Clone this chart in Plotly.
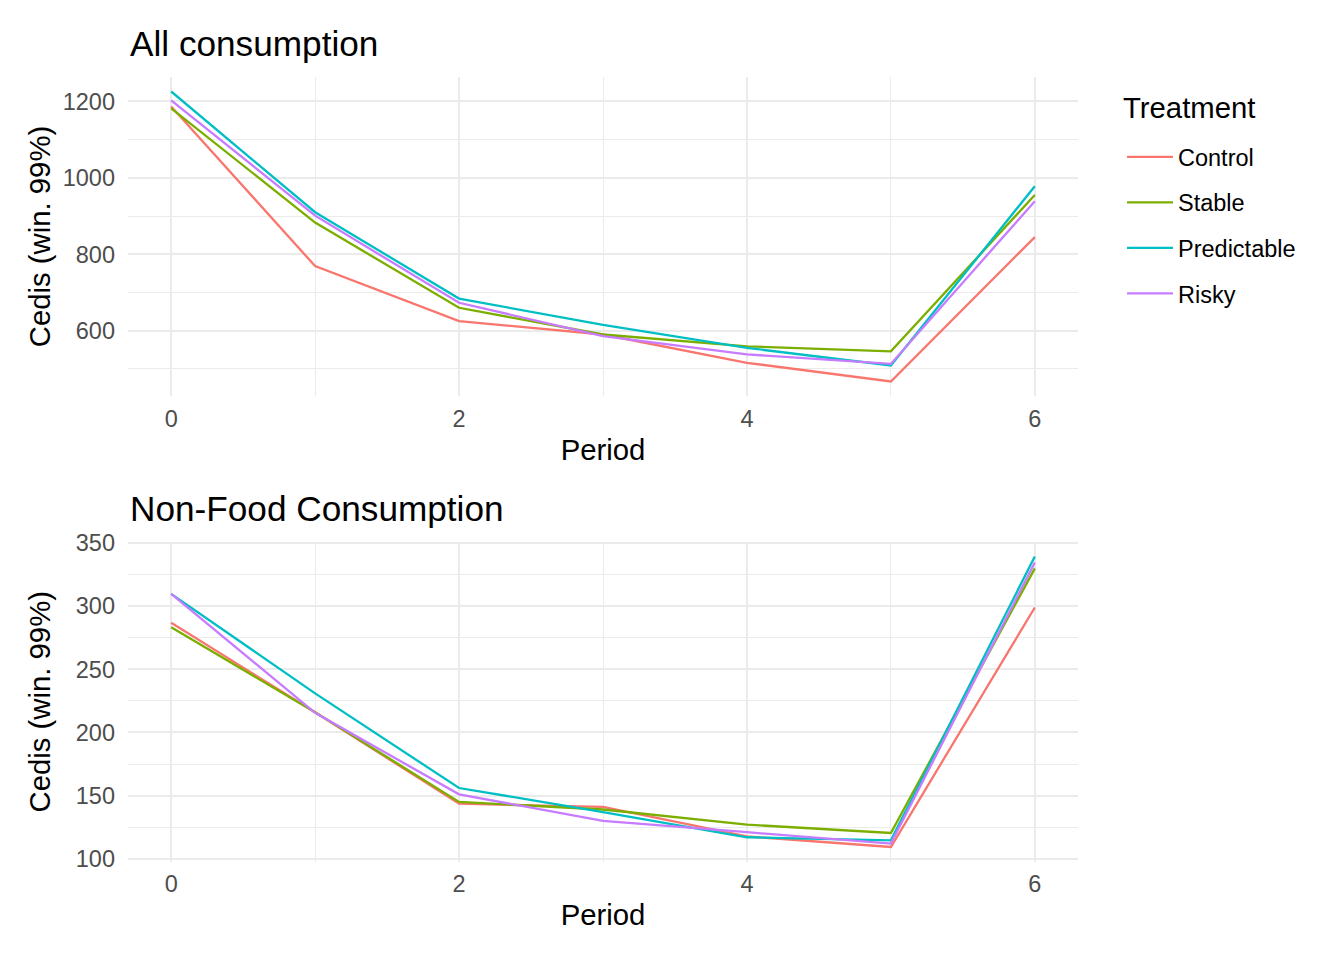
import plotly.graph_objects as go

periods = [0, 1, 2, 3, 4, 5, 6]
treatments = ["Control", "Stable", "Predictable", "Risky"]
colors = ["#F8766D", "#7CAE00", "#00BFC4", "#C77CFF"]

all_control = [1187, 769, 625, 590, 516, 467, 845]
all_stable = [1182, 883, 660, 590, 559, 546, 955]
all_predictable = [1226, 910, 684, 615, 555, 509, 978]
all_risky = [1203, 901, 673, 586, 538, 513, 939]

nf_control = [287, 216, 143.6, 141, 117.7, 109.3, 299]
nf_stable = [283.3, 216, 145, 139, 127, 120.4, 330]
nf_predictable = [309.8, 231, 156, 137, 117, 114.6, 339.4]
nf_risky = [309.8, 215.6, 151, 130, 121, 112, 334.7]

all_series = [all_control, all_stable, all_predictable, all_risky]
nf_series = [nf_control, nf_stable, nf_predictable, nf_risky]

W, H = 1344, 960
OFF = 8  # page offset of the figure inside the browser window
FONT = "Liberation Sans, Arial, Helvetica, sans-serif"
GRID = "#EBEBEB"
TICKC = "#4D4D4D"
TICK_SIZE = 23.5
AXTITLE_SIZE = 29.3
TITLE_SIZE = 35.2


def expand(series_list, mult=0.05):
    lo = min(min(s) for s in series_list)
    hi = max(max(s) for s in series_list)
    d = (hi - lo) * mult
    return [lo - d, hi + d]


def px(xp):
    return (xp - OFF) / W


def py(yp):
    return 1 - (yp - OFF) / H


fig = go.Figure()
for name, col, ys in zip(treatments, colors, all_series):
    fig.add_trace(go.Scatter(x=periods, y=ys, mode="lines", name=name,
                             legendgroup=name, line=dict(color=col, width=2.3),
                             xaxis="x", yaxis="y"))
for name, col, ys in zip(treatments, colors, nf_series):
    fig.add_trace(go.Scatter(x=periods, y=ys, mode="lines", name=name,
                             legendgroup=name, showlegend=False,
                             line=dict(color=col, width=2.3),
                             xaxis="x2", yaxis="y2"))

xdom = [px(128), px(1078)]
top_dom = [py(396), py(77)]
bot_dom = [py(861.5), py(542)]

xcommon = dict(range=[-0.3, 6.3], tickvals=[0, 2, 4, 6], showgrid=True,
               gridcolor=GRID, gridwidth=2.2, zeroline=False, showline=False,
               ticks="", ticklabelstandoff=6,
               tickfont=dict(family=FONT, size=TICK_SIZE, color=TICKC),
               minor=dict(tickvals=[1, 3, 5], showgrid=True, gridcolor=GRID, gridwidth=1.1),
               automargin=False,
               title=dict(text="Period", font=dict(family=FONT, size=AXTITLE_SIZE, color="black"), standoff=8))
ycommon = dict(showgrid=True, gridcolor=GRID, gridwidth=2.2, zeroline=False,
               showline=False, ticks="", ticklabelstandoff=12,
               tickfont=dict(family=FONT, size=TICK_SIZE, color=TICKC), automargin=False)


def ytitle(standoff):
    return dict(text="Cedis (win. 99%)", font=dict(family=FONT, size=AXTITLE_SIZE, color="black"),
                standoff=standoff)


fig.update_layout(
    width=W, height=H,
    margin=dict(l=0, r=0, t=0, b=0),
    paper_bgcolor="white", plot_bgcolor="white",
    font=dict(family=FONT),
    xaxis=dict(domain=xdom, anchor="y", **xcommon),
    yaxis=dict(domain=top_dom, anchor="x", range=expand(all_series),
               tickvals=[600, 800, 1000, 1200], title=ytitle(3),
               minor=dict(tickvals=[500, 700, 900, 1100], showgrid=True, gridcolor=GRID, gridwidth=1.1),
               **ycommon),
    xaxis2=dict(domain=xdom, anchor="y2", **xcommon),
    yaxis2=dict(domain=bot_dom, anchor="x2", range=expand(nf_series),
                tickvals=[100, 150, 200, 250, 300, 350], title=ytitle(16),
                minor=dict(tickvals=[125, 175, 225, 275, 325], showgrid=True, gridcolor=GRID, gridwidth=1.1),
                **ycommon),
    legend=dict(x=px(1122), y=py(135), xanchor="left", yanchor="top",
                font=dict(family=FONT, size=TICK_SIZE, color="black"),
                itemwidth=46, tracegroupgap=12, bgcolor="rgba(0,0,0,0)"),
    annotations=[
        dict(text="Treatment", x=px(1121), y=py(107), xref="paper", yref="paper",
             xanchor="left", yanchor="middle", showarrow=False,
             font=dict(family=FONT, size=AXTITLE_SIZE, color="black")),
        dict(text="All consumption", x=px(128), y=py(43), xref="paper", yref="paper",
             xanchor="left", yanchor="middle", showarrow=False,
             font=dict(family=FONT, size=TITLE_SIZE, color="black")),
        dict(text="Non-Food Consumption", x=px(128), y=py(508), xref="paper", yref="paper",
             xanchor="left", yanchor="middle", showarrow=False,
             font=dict(family=FONT, size=TITLE_SIZE, color="black")),
    ],
)

fig.write_html("out.html")
